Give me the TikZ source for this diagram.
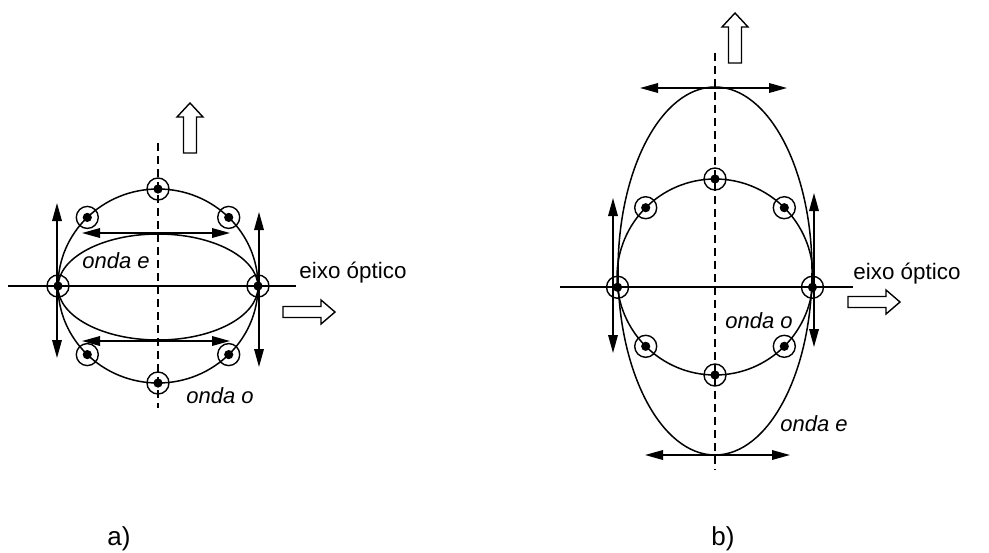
\documentclass[tikz,border=0pt]{standalone}
\usepackage{fontspec}
\setmainfont{Liberation Sans}
\usetikzlibrary{arrows.meta}
\tikzset{
  ln/.style={line width=0.75pt},
  dbl/.style={{Triangle[length=9pt,width=4.8pt]}-{Triangle[length=9pt,width=4.8pt]},line width=0.75pt},
  dsh/.style={dash pattern=on 4pt off 2.5pt,line width=0.65pt},
  ring/.style={circle,draw,line width=0.7pt,minimum size=11pt,inner sep=0pt},
  hol/.style={draw,line width=0.7pt,fill=white},
  lbl/.style={font=\fontsize{11.2}{13}\selectfont,inner sep=0pt},
  olbl/.style={font=\fontsize{11}{13}\selectfont\itshape,inner sep=0pt}
}
\newcommand{\upar}[2]{\draw[hol] (#1-6.5,#2) -- ++(0,-36) -- ++(-6.5,0) -- (#1,#2-50) -- (#1+13,#2-36) -- ++(-6.5,0) -- (#1+6.5,#2) -- cycle;}
\newcommand{\rtar}[2]{\draw[hol] (#1,#2-5.5) -- ++(38,0) -- ++(0,-6.5) -- (#1+52,#2) -- (#1+38,#2+12) -- ++(0,-6.5) -- (#1,#2+5.5) -- cycle;}
\begin{document}
\begin{tikzpicture}[x=0.5pt,y=-0.5pt]
\useasboundingbox (0,0) rectangle (989,552);
% a)
\draw[dsh] (158,143) -- (158,408);
\draw[ln] (8,286) -- (296,286);
\draw[ln] (158,286) ellipse [x radius=100, y radius=97];
\draw[ln] (158,287) ellipse [x radius=100, y radius=53];
\foreach \a [count=\i] in {0,45,...,315}
  \node[ring] (a\i) at ({158+100*cos(\a)},{286-97*sin(\a)}) {};
\foreach \i in {1,...,8} \fill (a\i) circle[radius=2.3pt];
\coordinate (aLu) at (57,203); \coordinate (aLd) at (57,358);
\coordinate (aRu) at (259,212); \coordinate (aRd) at (259,367);
\coordinate (aTl) at (82,233); \coordinate (aTr) at (230,233);
\coordinate (aBl) at (82,341); \coordinate (aBr) at (230,341);
\draw[dbl] (aLu) -- (aLd);
\draw[dbl] (aRu) -- (aRd);
\draw[dbl] (aTl) -- (aTr);
\draw[dbl] (aBl) -- (aBr);
\upar{190}{153}
\rtar{283}{312}
\node[olbl,anchor=base west] (ae) at (82,268) {onda e};
\node[olbl,anchor=base west] (ao) at (186,403) {onda o};
\node[lbl,anchor=base west] (aeixo) at (299,278) {eixo óptico};
\node[lbl,anchor=base west,font=\fontsize{13}{15}\selectfont] (alab) at (107,545) {a)};
% b)
\draw[dsh] (715,53) -- (715,470);
\draw[ln] (560,287) -- (853,287);
\draw[ln] (715,277) circle [x radius=98, y radius=98];
\draw[ln] (715,271) ellipse [x radius=97, y radius=184];
\foreach \a [count=\i] in {-6,45,90,135,186,225,270,315}
  \node[ring] (b\i) at ({715+98*cos(\a)},{277-98*sin(\a)}) {};
\foreach \i in {1,...,8} \fill (b\i) circle[radius=2.3pt];
\coordinate (bLu) at (613,198); \coordinate (bLd) at (613,353);
\coordinate (bRu) at (814,193); \coordinate (bRd) at (814,347);
\coordinate (bTl) at (640,88); \coordinate (bTr) at (787,88);
\coordinate (bBl) at (645,455); \coordinate (bBr) at (790,455);
\draw[dbl] (bLu) -- (bLd);
\draw[dbl] (bRu) -- (bRd);
\draw[dbl] (bTl) -- (bTr);
\draw[dbl] (bBl) -- (bBr);
\upar{735}{63}
\rtar{848}{302}
\node[olbl,anchor=base west] (bo) at (725,328) {onda o};
\node[olbl,anchor=base west] (be) at (780,431) {onda e};
\node[lbl,anchor=base west] (beixo) at (853,279) {eixo óptico};
\node[lbl,anchor=base west,font=\fontsize{13}{15}\selectfont] (blab) at (711,545) {b)};
\end{tikzpicture}
\end{document}
